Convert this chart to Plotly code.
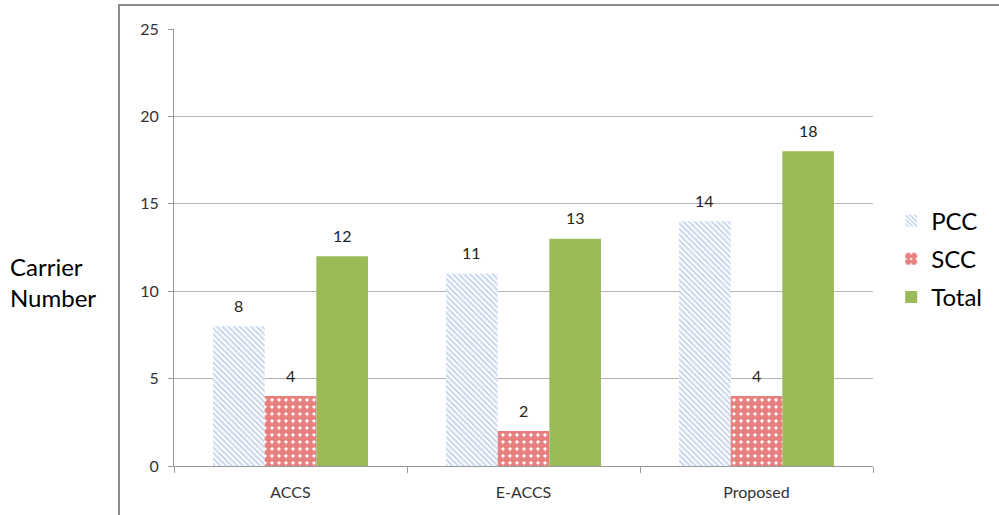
import plotly.graph_objects as go

categories = ["ACCS", "E-ACCS", "Proposed"]
pcc = [8, 11, 14]
scc = [4, 2, 4]
total = [12, 13, 18]
y_ticks = [0, 5, 10, 15, 20, 25]

FONT = "Lato, 'Open Sans', sans-serif"

fig = go.Figure()

fig.add_trace(go.Bar(
    name="PCC", x=categories, y=pcc, legendgroup="a",
    marker=dict(color="white", line=dict(width=0),
                pattern=dict(shape="\\", fgcolor="#8FAEDC", bgcolor="white",
                             size=4, solidity=0.5)),
))
fig.add_trace(go.Bar(
    name="SCC", x=categories, y=scc, legendgroup="b",
    marker=dict(color="white", line=dict(width=0),
                pattern=dict(shape=".", fgcolor="#D00000", bgcolor="white",
                             size=7, solidity=0.8)),
))
fig.add_trace(go.Bar(
    name="Total", x=categories, y=total, legendgroup="c",
    marker=dict(color="#9BBB59", line=dict(width=0)),
))

# value labels above each bar
offsets = {"PCC": -1, "SCC": 0, "Total": 1}
series = {"PCC": pcc, "SCC": scc, "Total": total}
annotations = []
for name, vals in series.items():
    for i, v in enumerate(vals):
        annotations.append(dict(
            x=i + offsets[name] * 0.222, y=v, xref="x", yref="y",
            text=str(v), showarrow=False, yshift=21,
            font=dict(family=FONT, size=16, color="#222"),
        ))

annotations.append(dict(
    x=-0.237, y=0.422, xref="paper", yref="paper", xanchor="left",
    text="Carrier<br>Number", showarrow=False, align="left",
    font=dict(family=FONT, size=24, color="#000"),
))

fig.update_layout(
    width=999, height=515,
    margin=dict(l=174, r=126, t=29, b=49),
    paper_bgcolor="white", plot_bgcolor="white",
    barmode="group", bargap=0.335, bargroupgap=0,
    font=dict(family=FONT, color="#333"),
    showlegend=True,
    legend=dict(x=1.026, y=0.612, xanchor="left", yanchor="top",
                font=dict(family=FONT, size=24, color="#000"),
                tracegroupgap=4, itemwidth=30, traceorder="grouped"),
    annotations=annotations,
    shapes=[dict(type="rect", xref="paper", yref="paper",
                 x0=-0.0787, y0=-0.3, x1=1.4, y1=1.055,
                 line=dict(color="#8c8c8c", width=2), layer="below")],
)

fig.update_xaxes(
    showgrid=False, showline=True, linecolor="#9a9a9a", linewidth=1,
    ticks="outside", ticklen=6, tickcolor="#9a9a9a", tickson="boundaries",
    tickfont=dict(family=FONT, size=16, color="#333"), ticklabelstandoff=12,
)
fig.update_yaxes(
    range=[0, 25], tickvals=y_ticks, showgrid=True, gridcolor="#b3b3b3",
    showline=True, linecolor="#9a9a9a", linewidth=1,
    ticks="outside", ticklen=5, tickcolor="#9a9a9a", zeroline=False,
    tickfont=dict(family=FONT, size=16, color="#333"), ticklabelstandoff=6,
)

fig.write_html("out.html")
